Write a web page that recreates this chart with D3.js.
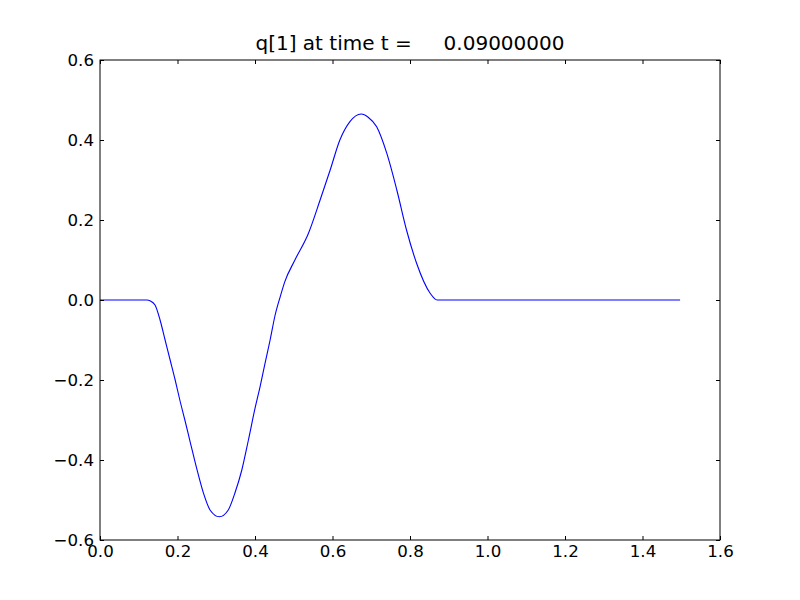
<!DOCTYPE html>
<html><head><meta charset="utf-8">
<script src="https://cdn.jsdelivr.net/npm/d3@7/dist/d3.min.js"></script>
<style>body{margin:0;background:#fff}svg{display:block}text{font-family:"DejaVu Sans",sans-serif}</style>
</head><body>
<script>
const titleText = "q[1] at time t =     0.09000000";
const xTicks = [0, 0.2, 0.4, 0.6, 0.8, 1.0, 1.2, 1.4, 1.6];
const yTicks = [-0.6, -0.4, -0.2, 0.0, 0.2, 0.4, 0.6];
const xs = [0, 0.1213, 0.129, 0.142, 0.155, 0.168, 0.181, 0.194, 0.206, 0.219, 0.232, 0.250, 0.267, 0.284, 0.308, 0.331, 0.348, 0.366, 0.383, 0.400, 0.413, 0.426, 0.439, 0.452, 0.465, 0.477, 0.503, 0.538, 0.568, 0.594, 0.619, 0.645, 0.674, 0.692, 0.714, 0.740, 0.766, 0.791, 0.817, 0.852, 0.870, 1.497];
const ys = [0, 0, -0.002, -0.0125, -0.05, -0.1, -0.15, -0.2, -0.25, -0.3, -0.352, -0.423, -0.483, -0.525, -0.542, -0.525, -0.483, -0.425, -0.35, -0.271, -0.217, -0.158, -0.1, -0.0375, 0.008, 0.046, 0.1, 0.167, 0.25, 0.325, 0.4, 0.446, 0.465, 0.457, 0.433, 0.367, 0.275, 0.175, 0.092, 0.017, 0, 0];

const W = 800, H = 600, L = 100, R = 720, T = 60, B = 540;
const svg = d3.select("body").append("svg").attr("width", W).attr("height", H);
const x = d3.scaleLinear().domain([0, 1.6]).range([L, R]);
const y = d3.scaleLinear().domain([-0.6, 0.6]).range([B, T]);
const fmt = v => d3.format(".1f")(v).replace("-", "\u2212");

const line = d3.line().x((d, i) => x(xs[i])).y((d, i) => y(ys[i])).curve(d3.curveMonotoneX);
svg.append("path").datum(xs).attr("d", line).attr("fill", "none").attr("stroke", "#0000ff").attr("stroke-width", 1.1);

function styleAxis(g) {
  g.select(".domain").remove();
  g.selectAll(".tick line").attr("stroke", "#000");
  g.selectAll(".tick text").attr("font-size", 16.67).attr("fill", "#000").attr("font-family", "DejaVu Sans");
}
svg.append("g").attr("transform", `translate(0,${B})`)
  .call(d3.axisBottom(x).tickValues(xTicks).tickFormat(fmt).tickSizeInner(-4).tickSizeOuter(0).tickPadding(5))
  .call(styleAxis);
svg.append("g").attr("transform", `translate(0,${T})`)
  .call(d3.axisTop(x).tickValues(xTicks).tickFormat("").tickSizeInner(-4).tickSizeOuter(0))
  .call(styleAxis);
svg.append("g").attr("transform", `translate(${L},0)`)
  .call(d3.axisLeft(y).tickValues(yTicks).tickFormat(fmt).tickSizeInner(-4).tickSizeOuter(0).tickPadding(6))
  .call(styleAxis);
svg.append("g").attr("transform", `translate(${R},0)`)
  .call(d3.axisRight(y).tickValues(yTicks).tickFormat("").tickSizeInner(-4).tickSizeOuter(0))
  .call(styleAxis);

svg.append("rect").attr("x", L).attr("y", T).attr("width", R - L).attr("height", B - T)
  .attr("fill", "none").attr("stroke", "#000").attr("stroke-width", 1);

svg.append("text").attr("x", (L + R) / 2).attr("y", 50).attr("text-anchor", "middle")
  .attr("font-size", 20).style("white-space", "pre").text(titleText);
</script>
</body></html>
